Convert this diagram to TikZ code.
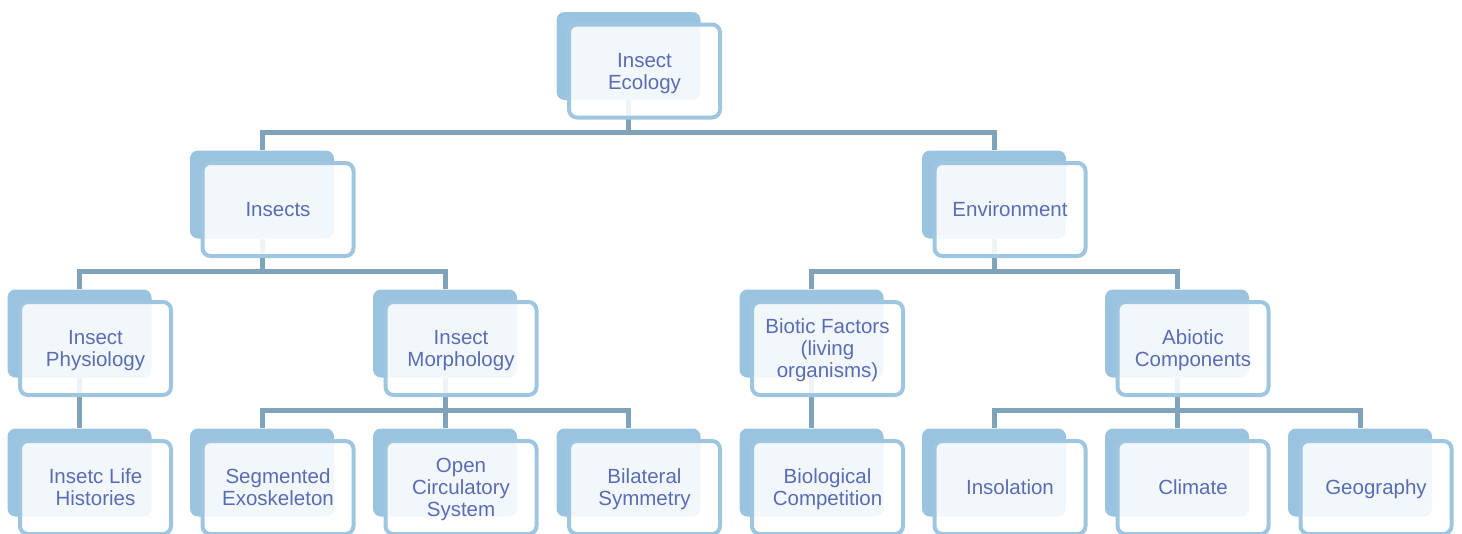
\documentclass[tikz,border=0pt]{standalone}
\usepackage{fontspec}
\setmainfont{Liberation Sans}
\definecolor{cardblue}{HTML}{9AC3DF}
\definecolor{cardline}{HTML}{9EC6E1}
\definecolor{linkgray}{HTML}{7FA3BA}
\definecolor{cardtext}{HTML}{5A6CB4}
\usetikzlibrary{calc,backgrounds}

\begin{document}
\begin{tikzpicture}[x=1pt,y=-1pt,font=\fontsize{20.5}{22}\selectfont,
  back/.style={rectangle,rounded corners=8pt,fill=cardblue,minimum width=144pt,minimum height=88pt,inner sep=0pt},
  front/.style={rectangle,rounded corners=8pt,draw=cardline,line width=4pt,fill=white,fill opacity=0.88,text opacity=1,text=cardtext,
    minimum width=151pt,minimum height=93pt,align=center,inner sep=0pt,text depth=0pt},
  link/.style={draw=linkgray,line width=5pt}]
\useasboundingbox (0,0) rectangle (1462,533);
% the cards: a blue back plate, the text card a little down and to the right
\foreach \n/\x/\y/\t in {eco/628.5/56/{Insect\\Ecology},
    ins/262/194.5/{Insects}, env/994/194.5/{Environment},
    phys/79.5/333.5/{Insect\\Physiology}, morph/445/333.5/{Insect\\Morphology},
    biot/811.5/333.5/{Biotic Factors\\(living\\organisms)}, abio/1177/333.5/{Abiotic\\Components},
    hist/79.5/472.5/{Insetc Life\\Histories}, seg/262/472.5/{Segmented\\Exoskeleton},
    circ/445/472.5/{Open\\Circulatory\\System}, bilat/628.5/472.5/{Bilateral\\Symmetry},
    comp/811.5/472.5/{Biological\\Competition}, insol/994/472.5/{Insolation},
    clim/1177/472.5/{Climate}, geo/1360/472.5/{Geography}}{
  \node[back] (\n-b) at (\x,\y) {};
  \node[front] (\n) at ($(\n-b)+(16,15)$) {\t};}
% the bars between the levels
\coordinate (bar0) at (0,132);
\coordinate (bar1) at (0,271);
\coordinate (bar2) at (0,410);
\begin{scope}[on background layer]
\foreach \a/\b/\r in {eco/ins/bar0, eco/env/bar0, ins/phys/bar1, ins/morph/bar1, env/biot/bar1, env/abio/bar1,
    morph/seg/bar2, morph/circ/bar2, morph/bilat/bar2, abio/insol/bar2, abio/clim/bar2, abio/geo/bar2}{
  \draw[link] (\a-b.south) -- (\a-b.south |- \r) -| (\b-b.north);}
\draw[link] (phys-b.south) -- (hist-b.north);
\draw[link] (biot-b.south) -- (comp-b.north);
\end{scope}
\end{tikzpicture}
\end{document}
